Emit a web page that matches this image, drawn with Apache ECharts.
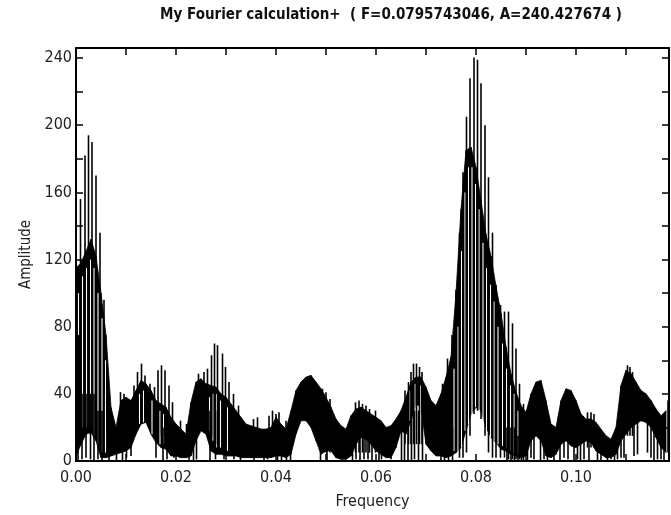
<!DOCTYPE html>
<html>
<head>
<meta charset="utf-8">
<script src="https://cdn.jsdelivr.net/npm/echarts@6/dist/echarts.min.js"></script>
<style>html,body{margin:0;padding:0;background:#fff;}#c{width:671px;height:515px;}</style>
</head>
<body>
<div id="c"></div>
<script>
// ---- data ----
const FREQ_STEP = 0.001; // band sampled every 0.001 from 0.000 to 0.118
// top of the dense (solid) part of the spectrum
const bandHi = [115,118,125,132,122,100,75,32,20,36,
  38,36,42,48,46,42,36,34,32,26,
  22,19,16,35,47,49,46,45,44,40,
  38,34,30,26,22,21,20,19,19,20,
  26,22,19,30,42,47,50,51,47,43,
  38,32,25,21,19,27,31,32,30,28,
  26,24,20,21,25,30,38,47,50,50,
  44,36,33,40,50,62,100,150,185,187,
  175,155,135,122,104,88,68,52,41,33,
  29,40,47,48,36,22,20,36,43,42,
  36,28,25,25,23,19,15,13,20,45,
  54,52,47,42,40,36,31,27,30];
// bottom of the dense part
const bandLo = [3,10,16,17,12,2,2,3,4,5,
  6,8,16,22,23,16,11,8,7,3,
  3,2,2,3,12,18,16,6,4,4,
  3,3,3,2,2,2,2,2,2,2,
  3,3,2,4,16,24,24,20,12,4,
  6,6,2,1,1,3,10,14,13,10,
  6,4,2,2,8,18,16,24,34,32,
  10,6,3,3,2,3,5,8,18,28,
  32,30,20,14,11,7,6,4,3,2,
  3,12,15,12,3,2,4,10,12,9,
  8,10,12,11,6,4,2,2,4,12,
  16,20,22,24,23,20,14,8,5];
// narrow black fringes: frequency, bottom, top
const spikeF  = [0.0009,0.0018,0.0025,0.0032,0.0040,0.0048,0.0056,0.0062,
  0.0004,0.0012,0.0020,0.0029,0.0036,0.0044,0.0052,0.0066,
  0.0089,0.0096,0.0116,0.0123,0.0131,0.0138,0.0148,0.0157,0.0164,0.0171,0.0178,0.0186,0.0193,
  0.0081,0.0093,0.0101,0.0110,0.0160,0.0174,0.0182,0.0196,
  0.0209,0.0221,0.0245,0.0256,0.0263,0.0271,0.0277,0.0283,0.0293,0.0299,0.0306,0.0315,0.0325,0.0355,0.0363,0.0386,0.0393,0.0400,
  0.0226,0.0235,0.0241,0.0268,0.0279,0.0296,0.0316,0.0329,0.0340,0.0356,0.0376,0.0383,
  0.0406,0.0420,0.0493,0.0500,0.0508,0.0559,0.0566,0.0573,0.0580,0.0587,
  0.0403,0.0411,0.0421,0.0429,0.0489,0.0502,0.0553,0.0560,0.0568,0.0576,0.0584,0.0592,
  0.0599,0.0658,0.0665,0.0670,0.0675,0.0681,0.0687,0.0692,0.0733,0.0743,0.0752,0.0760,
  0.0606,0.0611,0.0630,0.0651,0.0657,0.0664,0.0671,0.0677,0.0685,0.0693,0.0730,0.0737,0.0745,0.0753,
  0.0767,0.0774,0.0781,0.0788,0.0796,0.0803,0.0810,0.0818,0.0825,0.0833,0.0840,0.0849,0.0857,0.0865,0.0873,0.0880,0.0887,0.0895,
  0.0903,0.0916,0.0929,0.0956,0.0968,0.0984,0.0996,
  0.1023,0.1030,0.1036,0.1103,0.1108,0.1113,0.1184,
  0.1009,0.1026,0.1063,0.1070,0.1077,0.1090,0.1156,0.1163,0.1176,
  0.0862,0.0870,0.0877,0.0884,0.0891,0.0910,0.0936,0.0943,0.0976,0.1003,0.1016,0.1043,0.1050,0.1083,0.1096,0.1116,0.1123,0.1143,0.1150,0.1170];
const spikeLo = [60,60,60,60,60,50,40,20,
  0,1,2,1,0,1,0,0,
  10,10,15,20,25,25,20,15,15,15,15,10,10,
  0,0,2,3,2,0,1,2,
  2,2,20,20,20,15,10,10,10,10,10,5,5,3,3,3,3,3,
  0,0,1,0,1,1,1,0,2,0,0,1,
  3,3,5,5,5,5,5,5,5,5,
  0,0,0,0,0,0,0,1,0,1,1,0,
  5,10,10,10,10,10,10,10,5,5,5,5,
  0,1,1,0,0,0,0,1,0,0,0,0,0,0,
  2,2,5,15,28,30,25,15,5,2,2,2,2,1,1,1,1,0,
  0,1,0,0,0,1,0,
  8,8,8,15,15,15,5,
  0,0,0,1,0,2,0,1,0,
  0,0,0,0,0,2,1,0,2,1,1,0,0,1,2,3,4,5,2,1];
const spikeHi = [156,182,194,190,170,136,96,57,
  40,40,40,40,40,30,30,20,
  41,40,45,53,58,51,46,44,54,57,54,45,35,
  15,15,20,20,20,20,20,15,
  24,22,52,53,55,63,70,69,64,56,47,40,33,25,26,27,30,28,
  20,20,20,30,30,30,20,15,15,15,15,15,
  29,24,43,41,37,35,36,34,33,31,
  15,15,15,15,20,20,15,15,15,15,15,15,
  30,42,47,53,58,58,56,53,46,61,75,102,
  15,15,15,20,20,25,30,30,30,25,20,20,20,20,
  136,172,205,228,240.4,239,225,200,169,136,105,93,89,89,82,67,46,34,
  15,15,15,10,15,15,15,
  29,29,28,57,56,53,36,
  12,12,8,8,8,15,20,20,15,
  20,20,20,15,15,15,15,10,15,12,12,10,10,10,20,25,25,25,25,15];
// narrow white gaps inside the dense part: frequency, bottom, top
const gapF  = [0.0005,0.0013,0.0021,0.0029,0.0036,0.0044,0.0052,0.0059,
  0.0127,0.0135,0.0152,0.0168,0.0175,
  0.0267,0.0274,0.0281,0.0289,0.0303,
  0.0668,0.0678,0.0689,
  0.0756,0.0764,0.0771,0.0778,0.0785,0.0792,0.0799,0.0806,0.0814,0.0821,0.0829,0.0836,0.0844,0.0853,0.0861,0.0869,0.0876,0.0884];
const gapLo = [75,20,20,20,15,10,5,5,
  22,23,16,10,10,
  18,12,8,8,6,
  24,30,30,
  6,6,8,18,22,28,32,30,22,18,14,12,10,9,8,6,5,4];
const gapHi = [100,110,115,120,115,100,85,60,
  40,42,36,30,28,
  38,40,40,36,32,
  42,46,45,
  55,80,125,160,175,175,165,150,130,115,105,95,80,70,55,45,40,30];
const xTickStep = 0.01, xLabelStep = 0.02;
const yTickStep = 20, yLabelStep = 40;
const titleText = 'My Fourier calculation+  ( F=0.0795743046, A=240.427674 )';

// ---- build series data ----
const bandData = bandHi.map((h, i) => [+(i * FREQ_STEP).toFixed(4), bandLo[i], h]);
const spikeData = spikeF.map((f, i) => [f, spikeLo[i], spikeHi[i]]);
const gapData = gapF.map((f, i) => [f, gapLo[i], gapHi[i]]);

function segRenderer(color, width) {
  return function (params, api) {
    const a = api.coord([api.value(0), api.value(1)]);
    const b = api.coord([api.value(0), api.value(2)]);
    return {type: 'line', shape: {x1: a[0], y1: a[1], x2: b[0], y2: b[1]},
      style: {stroke: color, lineWidth: width}};
  };
}
function bandRenderer(params, api) {
  const i = params.dataIndex;
  if (i >= bandData.length - 1) return null;
  const p = bandData[i], q = bandData[i + 1];
  const pts = [api.coord([p[0], p[1]]), api.coord([p[0], p[2]]),
               api.coord([q[0], q[2]]), api.coord([q[0], q[1]])];
  return {type: 'polygon', shape: {points: pts},
    style: {fill: '#000', stroke: '#000', lineWidth: 0.8}};
}

const FONT = "'DejaVu Sans Condensed', 'DejaVu Sans', sans-serif";
const axisLineStyle = {color: '#000', width: 2};
const tickStyle = {show: true, inside: true, length: 7, lineStyle: {color: '#000', width: 1.5}};

const chart = echarts.init(document.getElementById('c'), null, {renderer: 'canvas'});
chart.setOption({
  animation: false,
  backgroundColor: '#fff',
  title: {text: titleText, left: 386, top: 3, textAlign: 'center',
    textStyle: {fontFamily: FONT, fontWeight: 'bold', fontSize: 15, color: '#111'}},
  grid: {left: 76, right: 2, top: 48, bottom: 51},
  xAxis: [
    {type: 'value', min: 0, max: 0.1186, interval: xTickStep, position: 'bottom',
      axisLine: {onZero: false, lineStyle: axisLineStyle}, axisTick: tickStyle, splitLine: {show: false},
      axisLabel: {color: '#222', fontFamily: FONT, fontSize: 16, margin: 9, showMaxLabel: false,
        formatter: v => { const k = v / xLabelStep; return Math.abs(k - Math.round(k)) < 1e-6 ? v.toFixed(2) : ''; }},
      name: 'Frequency', nameLocation: 'middle', nameGap: 33,
      nameTextStyle: {fontFamily: FONT, fontSize: 16, color: '#222'}},
    {type: 'value', min: 0, max: 0.1186, interval: xTickStep, position: 'top',
      axisLine: {onZero: false, lineStyle: axisLineStyle}, axisTick: tickStyle, axisLabel: {show: false}, splitLine: {show: false}}
  ],
  yAxis: [
    {type: 'value', min: 0, max: 246, interval: yTickStep, position: 'left',
      axisLine: {onZero: false, lineStyle: axisLineStyle}, axisTick: tickStyle, splitLine: {show: false},
      axisLabel: {color: '#222', fontFamily: FONT, fontSize: 16, margin: 4,
        formatter: v => (v % yLabelStep === 0 ? String(v) : '')},
      name: 'Amplitude', nameLocation: 'middle', nameGap: 42, nameRotate: 90,
      nameTextStyle: {fontFamily: FONT, fontSize: 15, color: '#222'}},
    {type: 'value', min: 0, max: 246, interval: yTickStep, position: 'right',
      axisLine: {onZero: false, lineStyle: axisLineStyle}, axisTick: tickStyle, axisLabel: {show: false}, splitLine: {show: false}}
  ],
  series: [
    {type: 'custom', data: bandData, renderItem: bandRenderer, encode: {x: 0, y: [1, 2]}, clip: true, silent: true},
    {type: 'custom', data: gapData, renderItem: segRenderer('#fff', 1.1), encode: {x: 0, y: [1, 2]}, clip: true, silent: true},
    {type: 'custom', data: spikeData, renderItem: segRenderer('#000', 1.6), encode: {x: 0, y: [1, 2]}, clip: true, silent: true}
  ]
});
</script>
</body>
</html>
